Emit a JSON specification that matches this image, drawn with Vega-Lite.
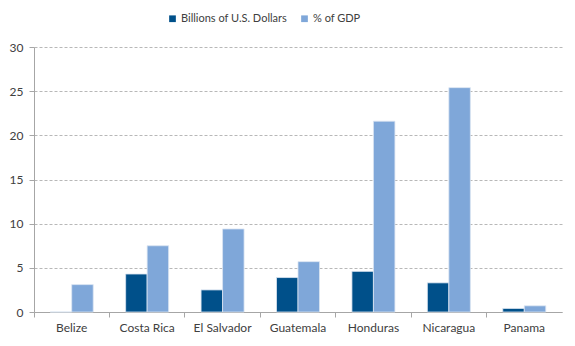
{
  "$schema": "https://vega.github.io/schema/vega-lite/v6.json",
  "width": 528,
  "height": 265,
  "autosize": {"type": "none"},
  "padding": {"left": 34, "top": 47, "right": 13, "bottom": 34},
  "background": "white",
  "config": {
    "view": {"stroke": null},
    "font": "Lato",
    "axis": {"labelFont": "Lato", "labelFontSize": 12, "labelColor": "#404040"}
  },
  "data": {
    "values": [
      {"country": "Belize", "series": "Billions of U.S. Dollars", "value": 0},
      {"country": "Belize", "series": "% of GDP", "value": 3.1},
      {"country": "Costa Rica", "series": "Billions of U.S. Dollars", "value": 4.3},
      {"country": "Costa Rica", "series": "% of GDP", "value": 7.5},
      {"country": "El Salvador", "series": "Billions of U.S. Dollars", "value": 2.5},
      {"country": "El Salvador", "series": "% of GDP", "value": 9.4},
      {"country": "Guatemala", "series": "Billions of U.S. Dollars", "value": 3.9},
      {"country": "Guatemala", "series": "% of GDP", "value": 5.7},
      {"country": "Honduras", "series": "Billions of U.S. Dollars", "value": 4.6},
      {"country": "Honduras", "series": "% of GDP", "value": 21.6},
      {"country": "Nicaragua", "series": "Billions of U.S. Dollars", "value": 3.3},
      {"country": "Nicaragua", "series": "% of GDP", "value": 25.4},
      {"country": "Panama", "series": "Billions of U.S. Dollars", "value": 0.4},
      {"country": "Panama", "series": "% of GDP", "value": 0.7}
    ]
  },
  "layer": [
    {
      "mark": {"type": "bar", "stroke": "#dbe5f1", "strokeWidth": 0.8},
      "encoding": {
        "x": {
          "field": "country", "type": "nominal", "sort": null,
          "scale": {"paddingInner": 0.43, "paddingOuter": 0.215},
          "axis": {"title": null, "labelAngle": 0, "ticks": false, "domain": false, "labelPadding": 10}
        },
        "xOffset": {
          "field": "series", "type": "nominal",
          "sort": ["Billions of U.S. Dollars", "% of GDP"],
          "scale": {"paddingInner": 0, "paddingOuter": 0}
        },
        "y": {
          "field": "value", "type": "quantitative",
          "scale": {"domain": [0, 30], "nice": false},
          "axis": {
            "title": null, "values": [0, 5, 10, 15, 20, 25, 30],
            "gridDash": [3, 2], "gridColor": "#a6a6a6", "gridWidth": 0.8,
            "domainColor": "#a6a6a6", "tickColor": "#a6a6a6", "tickSize": 5,
            "labelPadding": 6
          }
        },
        "color": {
          "field": "series", "type": "nominal",
          "sort": ["Billions of U.S. Dollars", "% of GDP"],
          "scale": {"domain": ["Billions of U.S. Dollars", "% of GDP"], "range": ["#00508a", "#7fa7d9"]},
          "legend": {
            "title": null, "orient": "none", "direction": "horizontal",
            "legendX": 133, "legendY": -34,
            "symbolType": "square", "symbolSize": 45, "symbolStrokeWidth": 0,
            "labelFontSize": 11, "labelColor": "#404040", "labelFont": "Lato",
            "columnPadding": 12, "symbolOffset": 0, "labelOffset": 3
          }
        }
      }
    },
    {
      "mark": {"type": "bar", "opacity": 0},
      "encoding": {
        "x": {
          "field": "country", "type": "nominal", "sort": null,
          "axis": {
            "title": null, "orient": "bottom", "labels": false, "grid": false,
            "bandPosition": -0.377, "tickSize": 5, "tickColor": "#a6a6a6", "domainColor": "#a6a6a6"
          }
        },
        "y": {"field": "value", "type": "quantitative"}
      }
    }
  ],
  "resolve": {"axis": {"x": "independent"}}
}
